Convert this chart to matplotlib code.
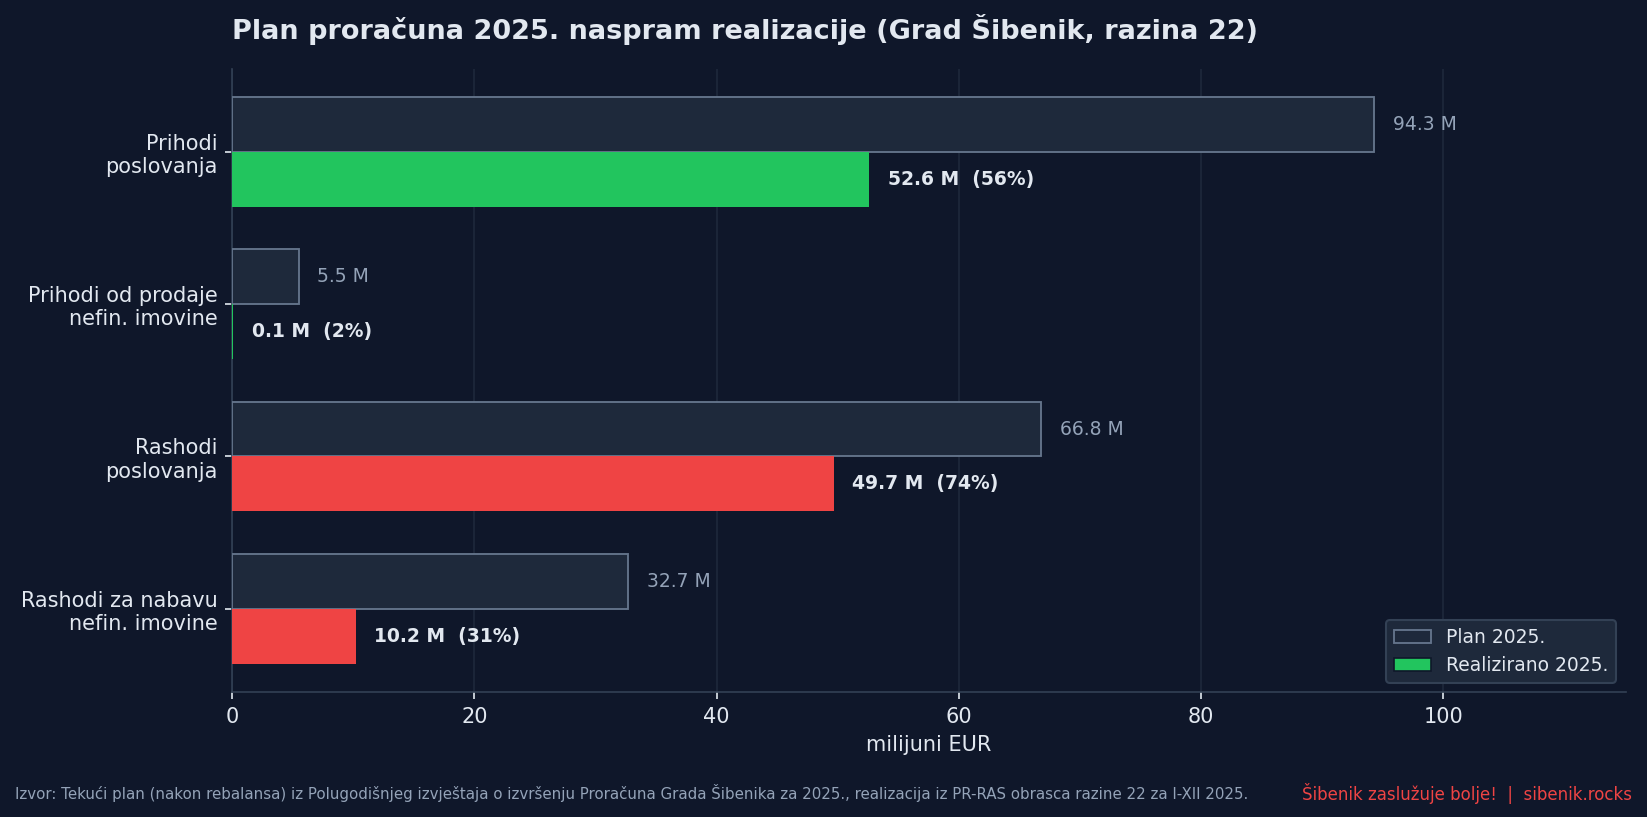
import matplotlib
matplotlib.use("Agg")
import matplotlib.pyplot as plt
import numpy as np

plt.rcParams["font.family"] = ["DejaVu Sans"]

categories = ["Prihodi\nposlovanja", "Prihodi od prodaje\nnefin. imovine",
              "Rashodi\nposlovanja", "Rashodi za nabavu\nnefin. imovine"]
plan = [94.3, 5.5, 66.8, 32.7]
realized = [52.6, 0.1, 49.7, 10.2]
pct = [56, 2, 74, 31]
kind = ["prihod", "prihod", "rashod", "rashod"]

BG = "#0f172a"
TXT = "#e2e8f0"
MUTED = "#94a3b8"
GREEN = "#22c55e"
RED = "#ef4444"

DPI = 150
fig = plt.figure(figsize=(1647 / DPI, 817 / DPI), dpi=DPI, facecolor=BG)
ax = fig.add_axes([0.141, 0.153, 0.846, 0.763])
ax.set_facecolor(BG)

y = np.arange(len(categories))
h = 0.36
ax.barh(y - h / 2, plan, height=h, color="#1e293b", edgecolor="#64748b",
        linewidth=0.9, label="Plan 2025.", zorder=3)
colors = [GREEN if k == "prihod" else RED for k in kind]
ax.barh(y + h / 2, realized, height=h, color=colors, edgecolor="none",
        label="Realizirano 2025.", zorder=3)

off = max(plan) * 0.016
for i in range(len(categories)):
    ax.text(plan[i] + off, y[i] - h / 2, f"{plan[i]:.1f} M", va="center",
            ha="left", color=MUTED, fontsize=9)
    ax.text(realized[i] + off, y[i] + h / 2, f"{realized[i]:.1f} M  ({pct[i]}%)",
            va="center", ha="left", color=TXT, fontsize=9, fontweight="bold")

ax.set_yticks(y)
ax.set_yticklabels(categories, fontsize=10, color=TXT)
ax.invert_yaxis()
ax.set_xlim(0, max(plan) * 1.22)
ax.tick_params(axis="x", colors=TXT, labelsize=10)
ax.tick_params(axis="y", colors=TXT)
ax.set_xlabel("milijuni EUR", color=TXT, fontsize=10)
ax.grid(axis="x", color="#1e293b", linewidth=0.8, zorder=0)
ax.set_axisbelow(True)
for s in ["top", "right"]:
    ax.spines[s].set_visible(False)
for s in ["left", "bottom"]:
    ax.spines[s].set_color("#334155")

leg = ax.legend(loc="lower right", fontsize=9, facecolor="#1e293b",
                edgecolor="#334155", labelcolor=TXT, framealpha=1)
leg.legend_handles[1].set_color(GREEN)
leg.legend_handles[1].set_edgecolor(BG)
leg.legend_handles[1].set_linewidth(0.8)

ax.set_title("Plan proračuna 2025. naspram realizacije (Grad Šibenik, razina 22)",
             loc="left", color=TXT, fontsize=13, fontweight="bold", pad=14)

fig.text(0.009, 0.029, "Izvor: Tekući plan (nakon rebalansa) iz Polugodišnjeg izvještaja o izvršenju "
         "Proračuna Grada Šibenika za 2025., realizacija iz PR-RAS obrasca razine 22 za I-XII 2025.",
         color=MUTED, fontsize=7.2, ha="left", va="center")
fig.text(0.991, 0.029, "Šibenik zaslužuje bolje!  |  sibenik.rocks", color=RED,
         fontsize=8, ha="right", va="center")

fig.savefig("out.png", dpi=DPI, facecolor=BG)
